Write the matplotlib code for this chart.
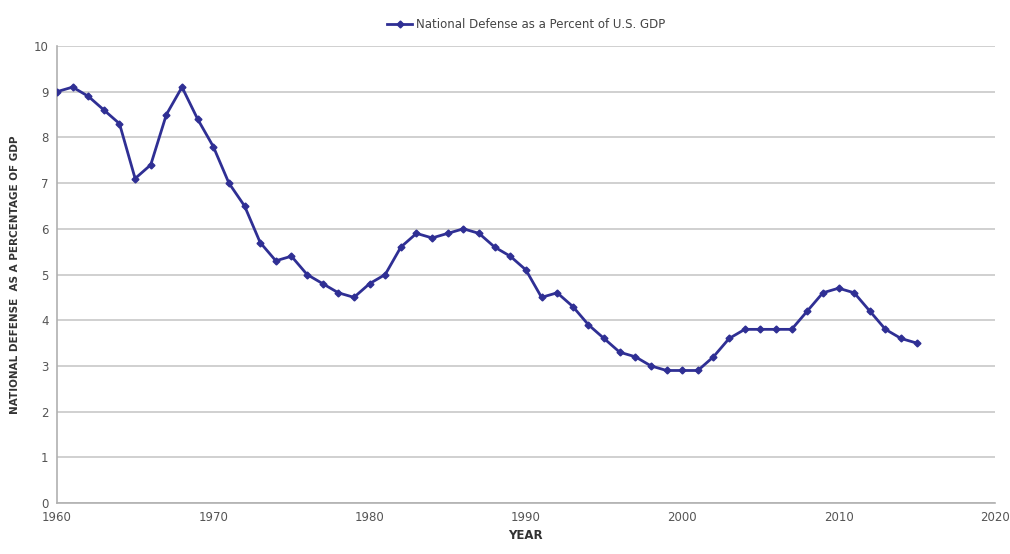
import numpy as np
import matplotlib.pyplot as plt

years = np.arange(1960, 2016)
pct_gdp = [9.0, 9.1, 8.9, 8.6, 8.3, 7.1, 7.4, 8.5, 9.1, 8.4,
           7.8, 7.0, 6.5, 5.7, 5.3, 5.4, 5.0, 4.8, 4.6, 4.5,
           4.8, 5.0, 5.6, 5.9, 5.8, 5.9, 6.0, 5.9, 5.6, 5.4,
           5.1, 4.5, 4.6, 4.3, 3.9, 3.6, 3.3, 3.2, 3.0, 2.9,
           2.9, 2.9, 3.2, 3.6, 3.8, 3.8, 3.8, 3.8, 4.2, 4.6,
           4.7, 4.6, 4.2, 3.8, 3.6, 3.5]

line_color = "#2f2f94"

fig = plt.figure(figsize=(10.1, 5.54), dpi=100)
ax = fig.add_axes([0.0564, 0.092, 0.9286, 0.825])

ax.plot(years, pct_gdp, color=line_color, lw=2.0, marker="D", markersize=3.5,
        label="National Defense as a Percent of U.S. GDP", zorder=3)

ax.set_xlim(1960, 2020)
ax.set_ylim(0, 10)
ax.set_xticks(np.arange(1960, 2021, 10))
ax.set_yticks(np.arange(0, 11, 1))
ax.grid(axis="y", color="#c8c8c8", lw=1.2, zorder=0)
ax.tick_params(axis="both", length=0, labelsize=8.5, colors="#555555", pad=6)
for sp in ("top", "right"):
    ax.spines[sp].set_visible(False)
ax.spines["left"].set_color("#b0b0b0")
ax.spines["bottom"].set_color("#b0b0b0")
ax.spines["left"].set_linewidth(1.2)
ax.spines["bottom"].set_linewidth(1.2)

ax.set_xlabel("YEAR", fontsize=8.5, fontweight="bold", color="#333333", labelpad=3)
ax.set_ylabel("NATIONAL DEFENSE  AS A PERCENTAGE OF GDP", fontsize=7.5,
              fontweight="bold", color="#333333", labelpad=10)

ax.legend(loc="lower center", bbox_to_anchor=(0.5, 1.01), frameon=False,
          fontsize=8.5, handlelength=2.2, handletextpad=0.3, labelcolor="#444444")

fig.savefig("out.png", dpi=100, facecolor="white")
